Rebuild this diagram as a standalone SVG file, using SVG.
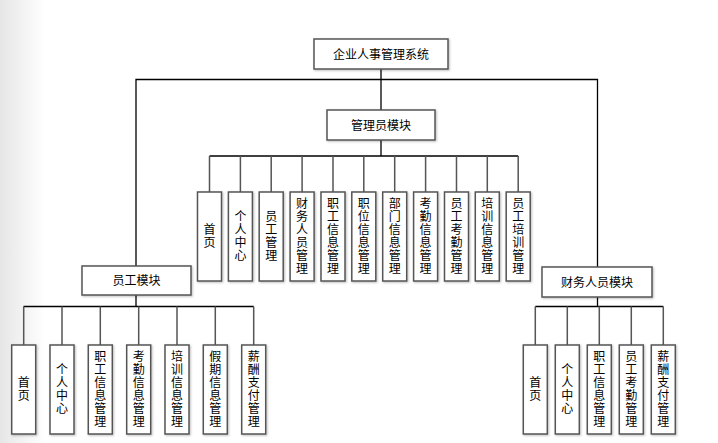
<svg xmlns="http://www.w3.org/2000/svg" width="718" height="443" viewBox="0 0 718 443">
<defs>
<linearGradient id="edge" x1="0" y1="0" x2="1" y2="0">
<stop offset="0" stop-color="#e6e6e6"/>
<stop offset="1" stop-color="#ffffff"/>
</linearGradient>
<filter id="sh" x="-20%" y="-20%" width="140%" height="140%">
<feDropShadow dx="1" dy="1" stdDeviation="0.8" flood-color="#000" flood-opacity="0.25"/>
</filter>
</defs>
<style>
.box{fill:#fff;stroke:#555;stroke-width:1.5;filter:url(#sh)}
.t{font-family:"Noto Sans CJK SC","Liberation Sans",sans-serif;font-size:12px;fill:#000;text-anchor:middle}
.v{font-family:"Noto Sans CJK SC","Liberation Sans",sans-serif;font-size:12px;fill:#000;text-anchor:middle;writing-mode:vertical-rl;glyph-orientation-vertical:0;letter-spacing:1px}
.c{fill:none;stroke:#000;stroke-width:1.3}
.cg{fill:none;stroke:#555;stroke-width:1.5}
</style>
<rect x="0" y="0" width="718" height="443" fill="#fff"/>
<rect x="0" y="0" width="45" height="443" fill="url(#edge)"/>

<g id="connectors">
<line class="c" x1="381" y1="69" x2="381" y2="110"/>
<polyline class="c" points="136,266 136,79.5 597.5,79.5 597.5,267"/>
<line class="c" x1="381" y1="140" x2="381" y2="156"/>
<line class="c" x1="209.5" y1="156" x2="518.2" y2="156"/>
<path class="cg" d="M209.5 156V192M240.4 156V192M271.2 156V192M302.1 156V192M333 156V192M363.8 156V192M394.7 156V192M425.6 156V192M456.5 156V192M487.3 156V192M518.2 156V192"/>
<line class="c" x1="136" y1="295" x2="136" y2="306.5"/>
<line class="c" x1="23.5" y1="306.5" x2="253.7" y2="306.5"/>
<path class="cg" d="M23.7 306.5V345M62 306.5V345M100.3 306.5V345M138.7 306.5V345M177 306.5V345M215.3 306.5V345M253.7 306.5V345"/>
<line class="c" x1="597.5" y1="297" x2="597.5" y2="306.5"/>
<line class="c" x1="535.3" y1="306.5" x2="663.3" y2="306.5"/>
<path class="cg" d="M535.3 306.5V345M567.3 306.5V345M599.3 306.5V345M631.3 306.5V345M663.3 306.5V345"/>
</g>

<g id="root"><rect class="box" x="314" y="39" width="134" height="30"/><text class="t" x="381" y="58.5">企业人事管理系统</text></g>
<g id="admin"><rect class="box" x="327" y="110" width="108" height="30"/><text class="t" x="381" y="129.5">管理员模块</text></g>
<g id="employee"><rect class="box" x="82" y="266" width="109" height="29"/><text class="t" x="136.5" y="285">员工模块</text></g>
<g id="finance"><rect class="box" x="542" y="267" width="110" height="30"/><text class="t" x="597" y="286.5">财务人员模块</text></g>

<g id="a1"><rect class="box" x="197.5" y="192" width="24" height="89"/><text class="v" x="209.5" y="236.5" dominant-baseline="central" text-anchor="middle">首页</text></g>
<g id="a2"><rect class="box" x="228.4" y="192" width="24" height="89"/><text class="v" x="240.4" y="236.5" text-anchor="middle">个人中心</text></g>
<g id="a3"><rect class="box" x="259.2" y="192" width="24" height="89"/><text class="v" x="271.2" y="236.5" text-anchor="middle">员工管理</text></g>
<g id="a4"><rect class="box" x="290.1" y="192" width="24" height="89"/><text class="v" x="302.1" y="236.5" text-anchor="middle">财务人员管理</text></g>
<g id="a5"><rect class="box" x="321" y="192" width="24" height="89"/><text class="v" x="333" y="236.5" text-anchor="middle">职工信息管理</text></g>
<g id="a6"><rect class="box" x="351.8" y="192" width="24" height="89"/><text class="v" x="363.8" y="236.5" text-anchor="middle">职位信息管理</text></g>
<g id="a7"><rect class="box" x="382.7" y="192" width="24" height="89"/><text class="v" x="394.7" y="236.5" text-anchor="middle">部门信息管理</text></g>
<g id="a8"><rect class="box" x="413.6" y="192" width="24" height="89"/><text class="v" x="425.6" y="236.5" text-anchor="middle">考勤信息管理</text></g>
<g id="a9"><rect class="box" x="444.5" y="192" width="24" height="89"/><text class="v" x="456.5" y="236.5" text-anchor="middle">员工考勤管理</text></g>
<g id="a10"><rect class="box" x="475.3" y="192" width="24" height="89"/><text class="v" x="487.3" y="236.5" text-anchor="middle">培训信息管理</text></g>
<g id="a11"><rect class="box" x="506.2" y="192" width="24" height="89"/><text class="v" x="518.2" y="236.5" text-anchor="middle">员工培训管理</text></g>

<g id="e1"><rect class="box" x="11.7" y="345" width="24" height="89"/><text class="v" x="23.7" y="389.5" text-anchor="middle">首页</text></g>
<g id="e2"><rect class="box" x="50" y="345" width="24" height="89"/><text class="v" x="62" y="389.5" text-anchor="middle">个人中心</text></g>
<g id="e3"><rect class="box" x="88.3" y="345" width="24" height="89"/><text class="v" x="100.3" y="389.5" text-anchor="middle">职工信息管理</text></g>
<g id="e4"><rect class="box" x="126.7" y="345" width="24" height="89"/><text class="v" x="138.7" y="389.5" text-anchor="middle">考勤信息管理</text></g>
<g id="e5"><rect class="box" x="165" y="345" width="24" height="89"/><text class="v" x="177" y="389.5" text-anchor="middle">培训信息管理</text></g>
<g id="e6"><rect class="box" x="203.3" y="345" width="24" height="89"/><text class="v" x="215.3" y="389.5" text-anchor="middle">假期信息管理</text></g>
<g id="e7"><rect class="box" x="241.7" y="345" width="24" height="89"/><text class="v" x="253.7" y="389.5" text-anchor="middle">薪酬支付管理</text></g>

<g id="f1"><rect class="box" x="523.3" y="345" width="24" height="89"/><text class="v" x="535.3" y="389.5" text-anchor="middle">首页</text></g>
<g id="f2"><rect class="box" x="555.3" y="345" width="24" height="89"/><text class="v" x="567.3" y="389.5" text-anchor="middle">个人中心</text></g>
<g id="f3"><rect class="box" x="587.3" y="345" width="24" height="89"/><text class="v" x="599.3" y="389.5" text-anchor="middle">职工信息管理</text></g>
<g id="f4"><rect class="box" x="619.3" y="345" width="24" height="89"/><text class="v" x="631.3" y="389.5" text-anchor="middle">员工考勤管理</text></g>
<g id="f5"><rect class="box" x="651.3" y="345" width="24" height="89"/><text class="v" x="663.3" y="389.5" text-anchor="middle">薪酬支付管理</text></g>
</svg>
